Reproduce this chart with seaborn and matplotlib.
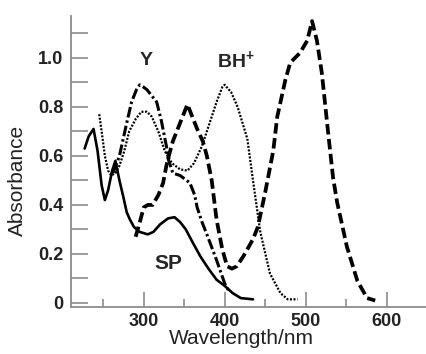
import numpy as np
import pandas as pd
import matplotlib
matplotlib.use("Agg")
import matplotlib.pyplot as plt
import seaborn as sns

# ---- data ----
sp_wl = [227, 232, 238, 243, 248, 252, 256, 261, 265, 270, 275, 279, 283, 288, 295, 305,
         312, 320, 330, 338, 345, 352, 360, 370, 380, 390, 400, 410, 420, 435]
sp_abs = [0.63, 0.68, 0.71, 0.62, 0.48, 0.42, 0.46, 0.54, 0.58, 0.50, 0.43, 0.37, 0.34, 0.31,
          0.29, 0.28, 0.29, 0.32, 0.345, 0.35, 0.33, 0.30, 0.25, 0.19, 0.14, 0.095, 0.07,
          0.04, 0.02, 0.015]

y_wl = [262, 270, 278, 285, 291, 295, 300, 304, 316, 322, 328, 330, 336, 345, 353, 357,
        363, 366, 372, 378, 390, 400, 405]
y_abs = [0.53, 0.60, 0.72, 0.82, 0.87, 0.89, 0.88, 0.87, 0.82, 0.74, 0.64, 0.59, 0.53, 0.52,
         0.50, 0.49, 0.44, 0.39, 0.33, 0.28, 0.175, 0.08, 0.05]

bh_wl = [245, 248, 252, 256, 260, 265, 270, 276, 282, 290, 297, 304, 310, 318, 326, 335,
         345, 354, 362, 372, 382, 390, 397, 400, 408, 416, 428, 435, 444, 456, 469, 478, 490]
bh_abs = [0.77, 0.70, 0.60, 0.54, 0.52, 0.53, 0.56, 0.62, 0.70, 0.75, 0.78, 0.78, 0.76, 0.70,
          0.62, 0.57, 0.545, 0.54, 0.57, 0.64, 0.74, 0.82, 0.88, 0.89, 0.86, 0.80, 0.67, 0.50,
          0.29, 0.12, 0.04, 0.015, 0.015]

mc_wl = [290, 296, 300, 305, 311, 318, 324, 328, 331, 336, 342, 348, 354, 360, 366, 373,
         378, 384, 390, 397, 403, 409, 415, 423, 435, 441, 450, 460, 465, 475, 481, 493, 502,
         508, 514, 520, 528, 534, 539, 551, 564, 576, 586]
mc_abs = [0.27, 0.34, 0.39, 0.40, 0.40, 0.44, 0.49, 0.56, 0.60, 0.66, 0.71, 0.76, 0.81, 0.76,
          0.71, 0.66, 0.60, 0.50, 0.34, 0.22, 0.15, 0.14, 0.15, 0.19, 0.26, 0.31, 0.45, 0.62,
          0.76, 0.91, 0.98, 1.02, 1.07, 1.15, 1.07, 0.94, 0.69, 0.51, 0.41, 0.23, 0.09, 0.02,
          0.01]

x_major = [300, 400, 500, 600]
x_minor = [250, 350, 450, 550]
y_major = [0, 0.2, 0.4, 0.6, 0.8, 1.0]
y_major_labels = ["0", "0.2", "0.4", "0.6", "0.8", "1.0"]
y_minor = [0.1, 0.3, 0.5, 0.7, 0.9, 1.1]

# ---- style ----
sns.set_style("ticks")
plt.rcParams["font.family"] = ["Liberation Sans", "DejaVu Sans"]
plt.rcParams["mathtext.fontset"] = "custom"
plt.rcParams["mathtext.bf"] = "Liberation Sans:bold"
plt.rcParams["mathtext.rm"] = "Liberation Sans:bold"

fig = plt.figure(figsize=(4.27, 3.54), dpi=100)
ax = fig.add_axes([0.166, 0.133, 0.834, 0.822])

sns.lineplot(x=sp_wl, y=sp_abs, ax=ax, color="black", lw=1.9, linestyle="-")
sns.lineplot(x=y_wl, y=y_abs, ax=ax, color="black", lw=2.2,
             linestyle=(0, (3.5, 1.0, 0.8, 1.0)))
sns.lineplot(x=bh_wl, y=bh_abs, ax=ax, color="black", lw=1.6,
             linestyle=(0, (0.9, 0.7)))
sns.lineplot(x=mc_wl, y=mc_abs, ax=ax, color="black", lw=2.7,
             linestyle=(0, (2.8, 1.2)))

ax.set_xlim(210, 650)
ax.set_ylim(-0.016, 1.171)

ax.set_xticks(x_major)
ax.set_xticks(x_minor, minor=True)
ax.set_yticks(y_major, labels=y_major_labels)
ax.set_yticks(y_minor, minor=True)

gc = "#8c8c8c"
for s in ["top", "right"]:
    ax.spines[s].set_visible(False)
for s in ["left", "bottom"]:
    ax.spines[s].set_color(gc)
    ax.spines[s].set_linewidth(1.3)

ax.tick_params(axis="y", which="both", direction="in", length=12.2, width=1.2,
               color=gc, pad=5.5)
ax.tick_params(axis="x", which="major", direction="in", length=10.8, width=1.2,
               color=gc, pad=4.5)
ax.tick_params(axis="x", which="minor", direction="in", length=5.8, width=1.2,
               color=gc)
for lab in ax.get_xticklabels() + ax.get_yticklabels():
    lab.set_fontsize(13)
    lab.set_fontweight("bold")
    lab.set_color("#222222")

ax.set_xlabel("Wavelength/nm", fontsize=15, color="#222222", labelpad=3)
ax.xaxis.set_label_coords(0.48, -0.075)
ax.set_ylabel("Absorbance", fontsize=15, color="#222222")
ax.yaxis.set_label_coords(-0.122, 0.436)

ax.text(303.5, 0.99, "Y", fontsize=14, fontweight="bold", ha="center", va="center")
ax.text(414, 0.99, r"BH$^{\mathbf{+}}$", fontsize=14, fontweight="bold",
        ha="center", va="center")
ax.text(330, 0.16, "SP", fontsize=15, fontweight="bold", ha="center", va="center")

fig.savefig("out.png", dpi=100)
